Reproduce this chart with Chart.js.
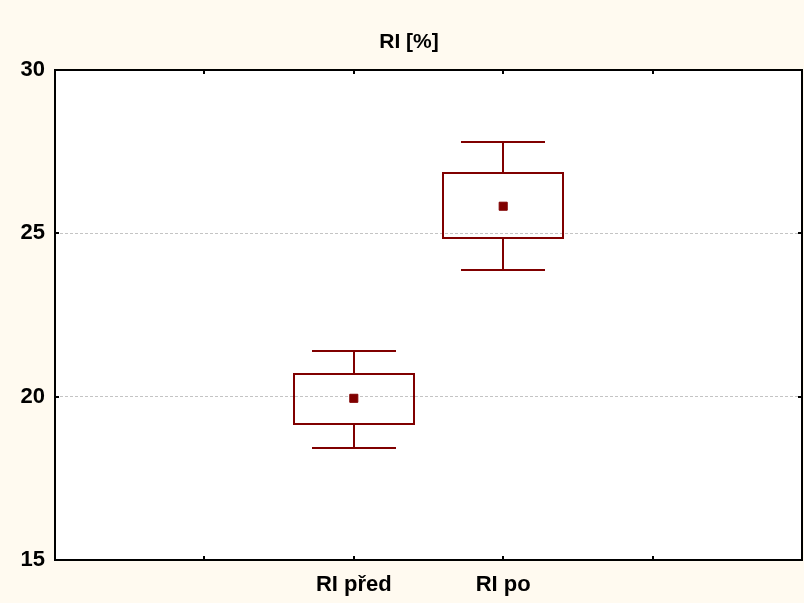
<!DOCTYPE html>
<html>
<head>
<meta charset="utf-8">
<script src="https://cdn.jsdelivr.net/npm/chart.js@4.4.1/dist/chart.umd.min.js"></script>
<style>
html,body{margin:0;padding:0;background:#FFFAF0;}
#wrap{width:804px;height:603px;}
</style>
</head>
<body>
<div id="wrap"><canvas id="c" width="804" height="603"></canvas></div>
<script>
// ---- data ----
const categories = ['RI před', 'RI po'];
const means      = [19.95, 25.83];
const boxLow     = [19.16, 24.86];
const boxHigh    = [20.68, 26.86];
const whiskerLow = [18.43, 23.88];
const whiskerHigh= [21.41, 27.80];
const yTicks     = [15, 20, 25, 30];

const slotCount = categories.length + 3;   // 5 slots along x, data centered
const firstSlot = 2;
const posOf = i => firstSlot + i;
const labelAt = {};
categories.forEach((c, i) => { labelAt[posOf(i)] = c; });

const RED = '#800000';
const FONT = "'Liberation Sans', Arial, sans-serif";

const boxPlugin = {
  id: 'boxPlugin',
  beforeDraw(chart) {
    const {ctx, chartArea: a} = chart;
    ctx.save();
    ctx.fillStyle = '#FFFAF0';
    ctx.fillRect(0, 0, chart.width, chart.height);
    ctx.fillStyle = '#FFFFFF';
    ctx.fillRect(a.left, a.top, a.right - a.left, a.bottom - a.top);
    ctx.restore();
  },
  afterDatasetsDraw(chart) {
    const {ctx, chartArea: a, scales: {x, y}} = chart;
    ctx.save();
    ctx.strokeStyle = RED;
    ctx.lineWidth = 2;
    const boxHalf = 0.4, capHalf = 0.28;
    categories.forEach((c, i) => {
      const p = posOf(i);
      const xc = Math.round(x.getPixelForValue(p));
      const xl = Math.round(x.getPixelForValue(p - boxHalf));
      const xr = Math.round(x.getPixelForValue(p + boxHalf));
      const cl = Math.round(x.getPixelForValue(p - capHalf));
      const cr = Math.round(x.getPixelForValue(p + capHalf));
      const yb1 = Math.round(y.getPixelForValue(boxLow[i]));
      const yb2 = Math.round(y.getPixelForValue(boxHigh[i]));
      const yw1 = Math.round(y.getPixelForValue(whiskerLow[i]));
      const yw2 = Math.round(y.getPixelForValue(whiskerHigh[i]));
      ctx.strokeRect(xl, yb2, xr - xl, yb1 - yb2);
      ctx.beginPath();
      ctx.moveTo(xc, yb2); ctx.lineTo(xc, yw2);
      ctx.moveTo(cl, yw2); ctx.lineTo(cr, yw2);
      ctx.moveTo(xc, yb1); ctx.lineTo(xc, yw1);
      ctx.moveTo(cl, yw1); ctx.lineTo(cr, yw1);
      ctx.stroke();
    });
    ctx.restore();
  },
  afterDraw(chart) {
    const {ctx, chartArea: a, scales: {x, y}} = chart;
    ctx.save();
    ctx.strokeStyle = '#000';
    ctx.lineWidth = 2;
    ctx.strokeRect(a.left, a.top, a.right - a.left, a.bottom - a.top);
    ctx.beginPath();
    for (let v = 1; v < slotCount; v++) {
      const px = Math.round(x.getPixelForValue(v));
      ctx.moveTo(px, a.bottom); ctx.lineTo(px, a.bottom - 4);
      ctx.moveTo(px, a.top); ctx.lineTo(px, a.top + 4);
    }
    yTicks.forEach(v => {
      const py = Math.round(y.getPixelForValue(v));
      ctx.moveTo(a.left, py); ctx.lineTo(a.left + 4, py);
      ctx.moveTo(a.right, py); ctx.lineTo(a.right - 4, py);
    });
    ctx.stroke();
    ctx.restore();
  }
};

new Chart(document.getElementById('c'), {
  type: 'scatter',
  data: {
    datasets: [{
      data: means.map((m, i) => ({x: posOf(i), y: m})),
      pointStyle: 'rect',
      radius: 5.7,
      hoverRadius: 5.7,
      backgroundColor: RED,
      borderColor: RED,
      borderWidth: 1
    }]
  },
  options: {
    responsive: false,
    animation: false,
    devicePixelRatio: 1,
    layout: {autoPadding: false, padding: {left: 16, right: 2, top: 0, bottom: 0}},
    plugins: {
      legend: {display: false},
      tooltip: {enabled: false},
      title: {
        display: true,
        text: 'RI [%]',
        color: '#000',
        font: {family: FONT, size: 21, weight: 'bold'},
        padding: {top: 30, bottom: 14.8}
      }
    },
    scales: {
      x: {
        type: 'linear',
        min: 0, max: slotCount,
        afterBuildTicks(s) { s.ticks = []; for (let v = 0; v <= slotCount; v++) s.ticks.push({value: v}); },
        afterFit(s) { s.height = 43; s.paddingLeft = 0; s.paddingRight = 0; },
        grid: {display: false, drawTicks: false},
        border: {display: false},
        ticks: {
          color: '#000',
          padding: 12,
          maxRotation: 0,
          autoSkip: false,
          font: {family: FONT, size: 22, weight: 'bold'},
          callback: v => labelAt[v] || ''
        }
      },
      y: {
        min: 15, max: 30,
        afterBuildTicks(s) { s.ticks = yTicks.map(v => ({value: v})); },
        afterFit(s) { s.width = 39; },
        border: {display: false, dash: [3, 2]},
        grid: {
          drawTicks: false,
          color: ctx => (ctx.tick && (ctx.tick.value === 15 || ctx.tick.value === 30)) ? 'rgba(0,0,0,0)' : '#c4c4c4',
          lineWidth: 1
        },
        ticks: {
          color: '#000',
          padding: 10,
          font: {family: FONT, size: 22, weight: 'bold'}
        }
      }
    }
  },
  plugins: [boxPlugin]
});
</script>
</body>
</html>
